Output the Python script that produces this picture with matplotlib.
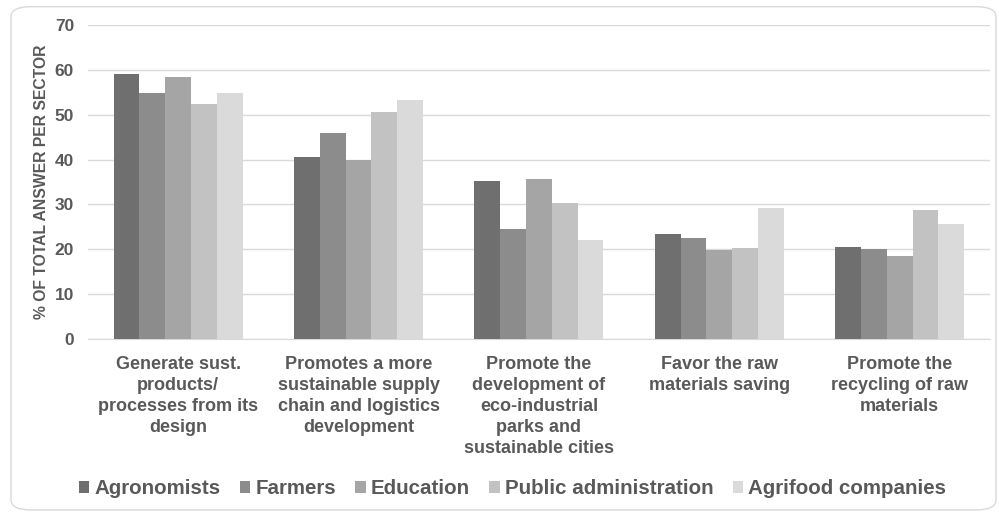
import numpy as np
import matplotlib.pyplot as plt
from matplotlib.patches import FancyBboxPatch

plt.rcParams['font.family'] = ['Liberation Sans', 'DejaVu Sans']

categories = [
    "Generate sust.\nproducts/\nprocesses from its\ndesign",
    "Promotes a more\nsustainable supply\nchain and logistics\ndevelopment",
    "Promote the\ndevelopment of\neco-industrial\nparks and\nsustainable cities",
    "Favor the raw\nmaterials saving",
    "Promote the\nrecycling of raw\nmaterials",
]
sectors = ["Agronomists", "Farmers", "Education", "Public administration", "Agrifood companies"]

agronomists = [59.0, 40.5, 35.3, 23.5, 20.5]
farmers = [54.9, 46.0, 24.6, 22.6, 20.0]
education = [58.4, 39.9, 35.6, 19.9, 18.4]
public_admin = [52.3, 50.7, 30.3, 20.3, 28.7]
agrifood = [54.9, 53.2, 22.1, 29.1, 25.6]

series = [agronomists, farmers, education, public_admin, agrifood]
colors = ["#6f6f6f", "#8c8c8c", "#a5a5a5", "#c2c2c2", "#dadada"]
text_col = "#595959"

fig = plt.figure(figsize=(9.99, 5.12), dpi=100)
ax = fig.add_axes([0.088, 0.338, 0.903, 0.613])

# rounded frame around the whole chart
frame = FancyBboxPatch((0.011, 0.004), 0.986, 0.983,
                       boxstyle="round,pad=0,rounding_size=0.02",
                       transform=fig.transFigure, fill=False,
                       edgecolor="#d9d9d9", linewidth=1.0)
fig.patches.append(frame)

x = np.arange(len(categories))
w = 0.143
for i, (vals, c, name) in enumerate(zip(series, colors, sectors)):
    ax.bar(x + (i - 2) * w, vals, w, color=c, label=name, zorder=3)

ax.set_xlim(-0.5, len(categories) - 0.5)
ax.set_ylim(0, 70)
ax.set_yticks(range(0, 71, 10))
ax.yaxis.grid(True, color="#d9d9d9", linewidth=1.0, zorder=0)
for s in ["top", "right", "left"]:
    ax.spines[s].set_visible(False)
ax.spines["bottom"].set_color("#d9d9d9")
ax.tick_params(axis="both", length=0, colors=text_col)
ax.tick_params(axis="y", pad=10)
ax.tick_params(axis="x", pad=12)
ax.set_xticks(x)
ax.set_xticklabels(categories, fontsize=13, fontweight="bold",
                   color=text_col, linespacing=1.32)
for lbl in ax.get_yticklabels():
    lbl.set_fontsize(12.5)
    lbl.set_fontweight("bold")
ax.set_ylabel("% OF TOTAL ANSWER PER SECTOR", fontsize=11.3, fontweight="bold",
              color=text_col, labelpad=4)

leg = fig.legend(loc="center", bbox_to_anchor=(0.513, 0.045), ncol=5,
                 frameon=False, handlelength=0.5, handleheight=0.5,
                 handletextpad=0.25, columnspacing=0.95,
                 prop={"size": 14.8, "weight": "bold"})
for t in leg.get_texts():
    t.set_color(text_col)

fig.savefig("out.png", dpi=100)
